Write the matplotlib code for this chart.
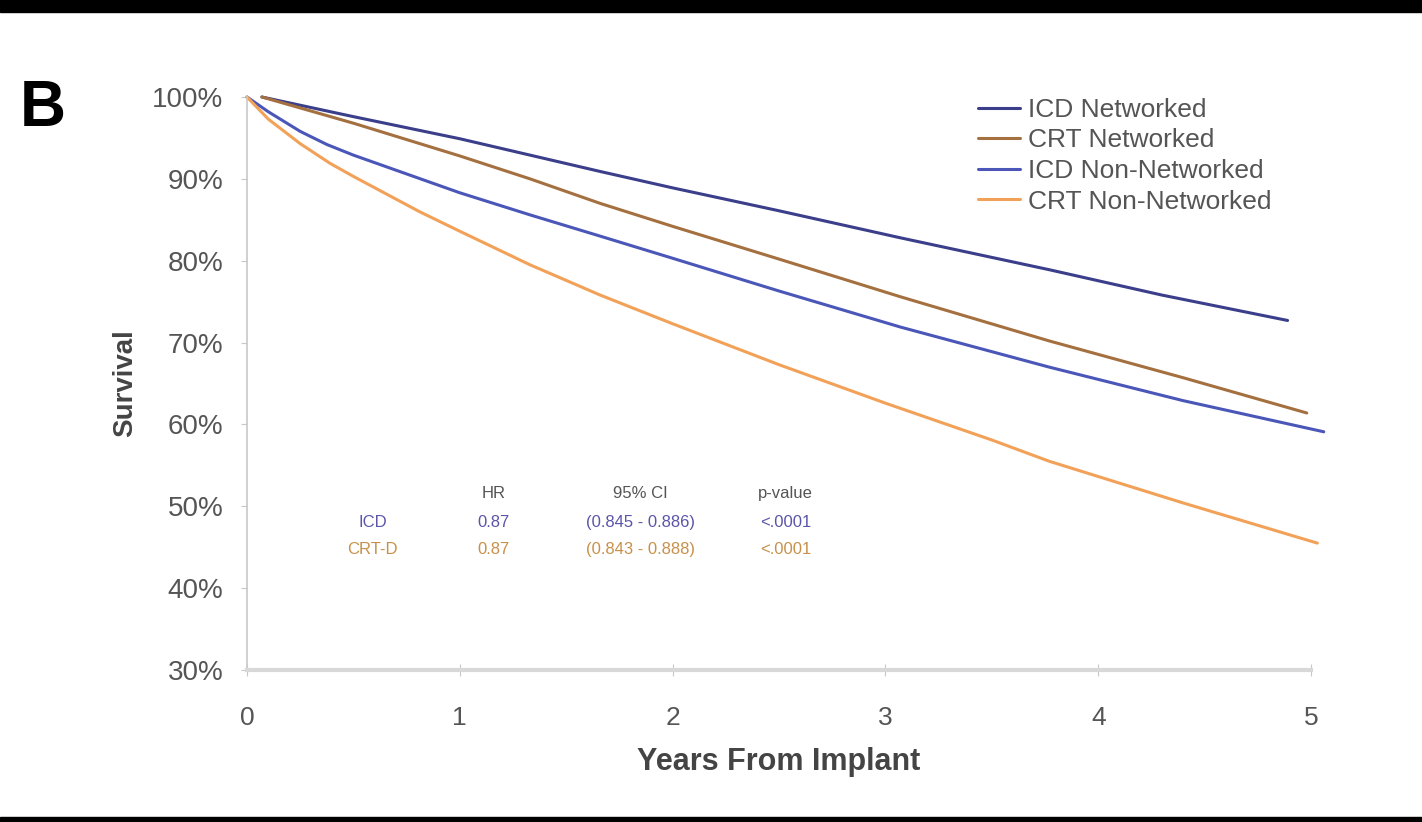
import matplotlib
matplotlib.use("Agg")
import matplotlib.pyplot as plt
from matplotlib.patches import Rectangle

plt.rcParams['font.family'] = ['Liberation Sans', 'DejaVu Sans']

# survival curves (years, percent)
icd_net_x = [0.07, 0.5, 1.0, 1.33, 1.66, 2.0, 2.5, 3.07, 3.77, 4.3, 4.89]
icd_net_y = [100, 97.6, 94.9, 92.9, 90.9, 88.9, 86.1, 82.8, 78.9, 75.8, 72.7]

crt_net_x = [0.07, 0.5, 1.0, 1.33, 1.66, 2.0, 2.5, 3.07, 3.77, 4.4, 4.98]
crt_net_y = [100, 96.8, 92.8, 90.0, 87.0, 84.2, 80.2, 75.6, 70.2, 65.7, 61.4]

icd_non_x = [0.0, 0.1, 0.25, 0.375, 0.5, 0.75, 1.0, 1.33, 1.66, 2.0, 2.5, 3.07, 3.77, 4.4, 5.06]
icd_non_y = [100, 98.2, 95.8, 94.2, 92.9, 90.6, 88.3, 85.6, 83.0, 80.3, 76.3, 71.9, 67.0, 62.9, 59.1]

crt_non_x = [0.0, 0.1, 0.25, 0.39, 0.5, 0.81, 1.0, 1.33, 1.66, 2.0, 2.5, 3.0, 3.5, 3.77, 4.4, 5.03]
crt_non_y = [100, 97.3, 94.3, 91.9, 90.3, 86.0, 83.6, 79.5, 75.8, 72.3, 67.3, 62.6, 58.1, 55.5, 50.4, 45.5]

labels = ["ICD Networked", "CRT Networked", "ICD Non-Networked", "CRT Non-Networked"]
colors = ["#3b3e8a", "#a5703f", "#4b57b8", "#f2a158"]

# hazard ratio table
tbl_header = ["HR", "95% CI", "p-value"]
tbl_rows = ["ICD", "CRT-D"]
tbl_hr = ["0.87", "0.87"]
tbl_ci = ["(0.845 - 0.886)", "(0.843 - 0.888)"]
tbl_p = ["<.0001", "<.0001"]
tbl_colors = ["#5a55a8", "#c8904a"]

fig = plt.figure(figsize=(14.22, 8.22), dpi=100)
ax = fig.add_axes([247/1422, 1-670/822, (1311-247)/1422, (670-97)/822])

series = [(icd_net_x, icd_net_y), (crt_net_x, crt_net_y),
          (icd_non_x, icd_non_y), (crt_non_x, crt_non_y)]
for (xs, ys), lab, c in zip(series, labels, colors):
    ax.plot(xs, ys, color=c, lw=2.2, label=lab, clip_on=False,
            solid_capstyle='round', solid_joinstyle='round')

ax.set_xlim(0, 5)
ax.set_ylim(30, 100)
ax.set_xticks(range(0, 6))
ax.set_yticks(range(30, 101, 10))
ax.set_yticklabels([f"{v}%" for v in range(30, 101, 10)])

for s in ["top", "right"]:
    ax.spines[s].set_visible(False)
ax.spines["left"].set_color("#c8c8c8")
ax.spines["bottom"].set_color("#d8d8d8")
ax.spines["left"].set_linewidth(1.2)
ax.spines["bottom"].set_linewidth(3)
ax.tick_params(axis="y", colors="#c8c8c8", labelcolor="#555555", labelsize=20, length=4, pad=13)
ax.tick_params(axis="x", colors="#c8c8c8", labelcolor="#555555", labelsize=19,
               direction="inout", length=8, pad=22)

ax.set_xlabel("Years From Implant", fontsize=22, fontweight="bold", color="#444444", labelpad=12)
ax.set_ylabel("Survival", fontsize=20, fontweight="bold", color="#444444", labelpad=10)

leg = ax.legend(loc="upper right", bbox_to_anchor=(0.985, 1.04), frameon=False,
                fontsize=19, handlelength=1.6, handletextpad=0.3, labelspacing=0.25)
for t in leg.get_texts():
    t.set_color("#555555")

# table
tx = [0.59, 1.16, 1.85, 2.53]
for j in range(3):
    ax.text(tx[j + 1], 51.6, tbl_header[j], ha="center", va="center", fontsize=12, color="#555555")
for i, yy in enumerate([48.0, 44.7]):
    c = tbl_colors[i]
    ax.text(tx[0], yy, tbl_rows[i], ha="center", va="center", fontsize=12, color=c)
    ax.text(tx[1], yy, tbl_hr[i], ha="center", va="center", fontsize=12, color=c)
    ax.text(tx[2], yy, tbl_ci[i], ha="center", va="center", fontsize=12, color=c)
    ax.text(tx[3], yy, tbl_p[i], ha="center", va="center", fontsize=12, color=c)

fig.text(43/1422, 1-109/822, "B", fontsize=46, fontweight="bold", ha="center", va="center")

# black bands at top and bottom
fig.add_artist(Rectangle((0, 1-12/822), 1, 12/822, transform=fig.transFigure, color="black", zorder=10))
fig.add_artist(Rectangle((0, 0), 1, 5/822, transform=fig.transFigure, color="black", zorder=10))

fig.savefig("out.png", dpi=100, facecolor="white")
